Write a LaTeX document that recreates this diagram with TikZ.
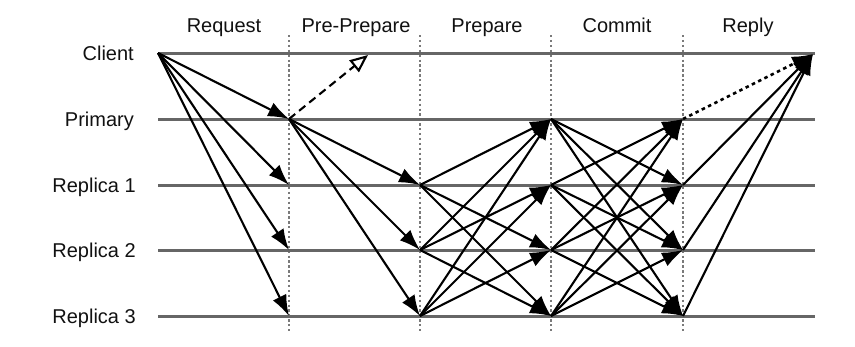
\documentclass[tikz,border=0pt]{standalone}
\usepackage{fontspec}
\setmainfont{Liberation Sans}
\usetikzlibrary{arrows.meta}
\definecolor{lifegray}{HTML}{666666}
\definecolor{dotgray}{HTML}{7A7A7A}
\definecolor{txt}{HTML}{111111}
\begin{document}
\begin{tikzpicture}[x=1pt,y=-1pt,
  lifeline/.style={draw=lifegray,line width=3pt},
  phaseline/.style={draw=dotgray,line width=2.3pt,dash pattern=on 2.3pt off 2.6pt},
  msg/.style={draw=black,line width=2.1pt,-{Latex[length=21pt,width=15pt]}},
  premsg/.style={draw=black,line width=2.1pt,dash pattern=on 8pt off 5pt,-{Triangle[open,length=18pt,width=15pt,line width=2.1pt]}},
  repmsg/.style={draw=black,line width=2.5pt,dash pattern=on 3.5pt off 3.5pt,-{Latex[length=21pt,width=15pt]}},
  rowlabel/.style={anchor=base east,text=txt,font=\fontsize{20}{24}\selectfont,inner sep=0pt},
  phaselabel/.style={anchor=base,text=txt,font=\fontsize{20}{24}\selectfont,inner sep=0pt}]
\useasboundingbox (0,0) rectangle (855,346);
% rows
\foreach \n/\y in {C/53,P/119,A/185,B/250,D/316}{
  \coordinate (\n s) at (158,\y);
  \coordinate (\n e) at (815,\y);
  \coordinate (\n 1) at (289,\y);
  \coordinate (\n 2) at (420,\y);
  \coordinate (\n 3) at (551,\y);
  \coordinate (\n 4) at (683,\y);
}
\coordinate (cli) at (813,54);
\coordinate (pp) at (368,55);
% phase separators
\foreach \i/\x in {1/289,2/420,3/551,4/683}{
  \coordinate (v\i t) at (\x,35);
  \coordinate (v\i b) at (\x,331);
  \draw[phaseline] (v\i t) -- (v\i b);
}
% lifelines
\foreach \n in {C,P,A,B,D}{\draw[lifeline] (\n s) -- (\n e);}
% labels
\node[rowlabel] (lc) at (134,60) {Client};
\node[rowlabel] (lp) at (134,126) {Primary};
\node[rowlabel] (la) at (136,192) {Replica 1};
\node[rowlabel] (lb) at (136,257) {Replica 2};
\node[rowlabel] (ld) at (136,323) {Replica 3};
\node[phaselabel] (h1) at (224,32) {Request};
\node[phaselabel] (h2) at (356,32) {Pre-Prepare};
\node[phaselabel] (h3) at (487,32) {Prepare};
\node[phaselabel] (h4) at (617,32) {Commit};
\node[phaselabel] (h5) at (748,32) {Reply};
% request
\foreach \t in {P,A,B,D}{\draw[msg] (Cs) -- (\t 1);}
% pre-prepare
\draw[premsg] (P1) -- (pp);
\foreach \t in {A,B,D}{\draw[msg] (P1) -- (\t 2);}
% prepare
\foreach \s in {A,B,D}{
  \foreach \t in {P,A,B,D}{
    \ifx\s\t\else\draw[msg] (\s 2) -- (\t 3);\fi
  }
}
% commit
\foreach \s in {P,A,B,D}{
  \foreach \t in {P,A,B,D}{
    \ifx\s\t\else\draw[msg] (\s 3) -- (\t 4);\fi
  }
}
% reply
\draw[repmsg] (P4) -- (cli);
\foreach \s in {A,B,D}{\draw[msg] (\s 4) -- (cli);}
\end{tikzpicture}
\end{document}
